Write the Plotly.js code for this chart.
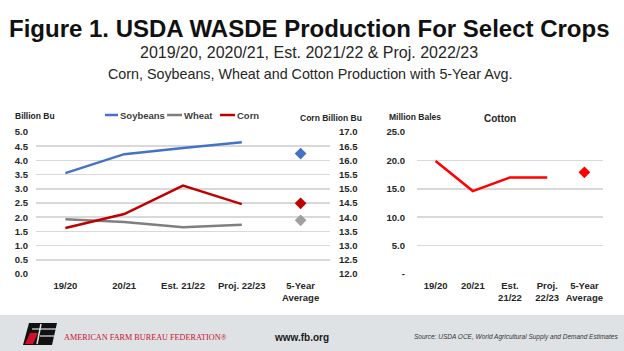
<!DOCTYPE html>
<html><head><meta charset="utf-8">
<script src="https://cdn.plot.ly/plotly-3.0.1.min.js"></script>
<style>html,body{margin:0;padding:0;background:#fff}#chart{width:624px;height:351px}</style>
</head><body><div id="chart"></div>
<script>
// ---- data ----
const categories = ["19/20", "20/21", "Est. 21/22", "Proj. 22/23", "5-Year Average"];
const leftTickText = ["19/20", "20/21", "Est. 21/22", "Proj. 22/23", "5-Year<br>Average"];
const cottonTickText = ["19/20", "20/21", "Est.<br>21/22", "Proj.<br>22/23", "5-Year<br>Average"];
const seriesNames = ["Soybeans", "Wheat", "Corn"];
const soybeans = [3.55, 4.22, 4.44, 4.64];
const wheat = [1.93, 1.83, 1.65, 1.73];
const corn = [13.62, 14.11, 15.11, 14.46];
const cotton = [19.9, 14.6, 17.0, 17.0];
const soybeansAvg = [4.24];
const wheatAvg = [1.89];
const cornAvg = [14.49];
const cottonAvg = [17.9];
const cottonTickVals = [0, 5, 10, 15, 20, 25];
const cottonTickLabels = ["-", "5.0", "10.0", "15.0", "20.0", "25.0"];

// ---- helpers ----
const W = 624, H = 351;
const px = x => x / W;
const py = y => 1 - y / H;
const yearCats = categories.slice(0, 4);
const avgCat = [categories[4]];
const colors = {Soybeans: "#4472C4", Wheat: "#7F7F7F", Corn: "#C00000"};
const SANS = "Liberation Sans, Arial, sans-serif";
const tickFont = {family: SANS, size: 9.5, color: "#262626", weight: 700};

const traces = [
  {x: yearCats, y: soybeans, name: "Soybeans", type: "scatter", mode: "lines", line: {color: colors.Soybeans, width: 2.5}, xaxis: "x", yaxis: "y"},
  {x: yearCats, y: wheat, name: "Wheat", type: "scatter", mode: "lines", line: {color: colors.Wheat, width: 2.5}, xaxis: "x", yaxis: "y"},
  {x: yearCats, y: corn, name: "Corn", type: "scatter", mode: "lines", line: {color: colors.Corn, width: 2.5}, xaxis: "x", yaxis: "y2"},
  {x: avgCat, y: soybeansAvg, name: "Soybeans avg", type: "scatter", mode: "markers", marker: {symbol: "diamond", size: 9, color: colors.Soybeans}, xaxis: "x", yaxis: "y"},
  {x: avgCat, y: wheatAvg, name: "Wheat avg", type: "scatter", mode: "markers", marker: {symbol: "diamond", size: 9, color: "#A0A0A0"}, xaxis: "x", yaxis: "y"},
  {x: avgCat, y: cornAvg, name: "Corn avg", type: "scatter", mode: "markers", marker: {symbol: "diamond", size: 9, color: colors.Corn}, xaxis: "x", yaxis: "y2"},
  {x: yearCats, y: cotton, name: "Cotton", type: "scatter", mode: "lines", line: {color: "#FF0000", width: 2.5}, xaxis: "x2", yaxis: "y3"},
  {x: avgCat, y: cottonAvg, name: "Cotton avg", type: "scatter", mode: "markers", marker: {symbol: "diamond", size: 9, color: "#FF0000"}, xaxis: "x2", yaxis: "y3"}
];
traces.forEach(t => { t.showlegend = false; t.hoverinfo = "skip"; t.cliponaxis = false; });

const gridColor = "#D9D9D9";
const yDomain = [py(274), py(132)];

const annotations = [];
const shapes = [];
function ann(text, x, y, opts) {
  annotations.push(Object.assign({text: text, x: px(x), y: py(y), xref: "paper", yref: "paper", showarrow: false, xanchor: "left", yanchor: "middle", font: {family: SANS, size: 8.5, color: "#262626", weight: 700}}, opts || {}));
}

// title + subtitles
ann("Figure 1. USDA WASDE Production For Select Crops", 309, 28, {xanchor: "center", font: {family: SANS, size: 24, color: "#111111", weight: 700}});
ann("2019/20, 2020/21, Est. 2021/22 &amp; Proj. 2022/23", 309, 52, {xanchor: "center", font: {family: SANS, size: 16, color: "#262626"}});
ann("Corn, Soybeans, Wheat and Cotton Production with 5-Year Avg.", 310, 74, {xanchor: "center", font: {family: SANS, size: 14.3, color: "#262626"}});

// axis titles
ann("Billion Bu", 13, 116);
ann("Corn Billion Bu", 298, 118);
ann("Million Bales", 387, 117);
ann("Cotton", 482, 118, {font: {family: SANS, size: 10, color: "#262626", weight: 700}});

// legend
const legendPos = [[105, 118], [167, 182], [220, 235]];
seriesNames.forEach((n, i) => {
  shapes.push({type: "line", xref: "paper", yref: "paper", x0: px(legendPos[i][0]), x1: px(legendPos[i][1]), y0: py(115), y1: py(115), line: {color: colors[n], width: 2.5}});
  ann(n, legendPos[i][1], 115, {font: {family: SANS, size: 9.5, color: "#404040", weight: 700}});
});

// footer
shapes.push({type: "rect", xref: "paper", yref: "paper", x0: 0, x1: 1, y0: 0, y1: py(315), fillcolor: "#DEE2E5", line: {width: 0}, layer: "below"});
shapes.push({type: "path", xref: "paper", yref: "paper", path: `M ${px(29)} ${py(323)} L ${px(57)} ${py(323)} L ${px(52)} ${py(345)} L ${px(23)} ${py(345)} Z`, fillcolor: "#111111", line: {width: 0}});
shapes.push({type: "path", xref: "paper", yref: "paper", path: `M ${px(30)} ${py(333)} L ${px(38)} ${py(333)} L ${px(33)} ${py(344)} L ${px(25)} ${py(344)} Z`, fillcolor: "#D0102A", line: {width: 0}});
shapes.push({type: "line", xref: "paper", yref: "paper", x0: px(41), x1: px(37), y0: py(324), y1: py(344), line: {color: "#DEE2E5", width: 1.5}});
shapes.push({type: "line", xref: "paper", yref: "paper", x0: px(32), x1: px(56), y0: py(329), y1: py(329), line: {color: "#DEE2E5", width: 1.2}});
shapes.push({type: "line", xref: "paper", yref: "paper", x0: px(40), x1: px(54), y0: py(336), y1: py(336), line: {color: "#DEE2E5", width: 1.2}});
ann("AMERICAN FARM BUREAU FEDERATION®", 62, 337, {font: {family: "Liberation Serif, Times New Roman, serif", size: 8.2, color: "#C8102E"}});
ann("www.fb.org", 272, 337, {font: {family: SANS, size: 10, color: "#1a1a1a", weight: 700}});
ann("Source: USDA OCE, World Agricultural Supply and Demand Estimates", 412, 337, {font: {family: SANS, size: 6.5, color: "#333333", style: "italic"}});

const layout = {
  width: W, height: H, autosize: false,
  margin: {l: 0, r: 0, t: 0, b: 0, pad: 0},
  paper_bgcolor: "#FFFFFF", plot_bgcolor: "rgba(0,0,0,0)",
  showlegend: false,
  xaxis: {domain: [px(36), px(330)], type: "category", categoryorder: "array", categoryarray: categories, range: [-0.5, 4.5],
          tickvals: categories, ticktext: leftTickText, showgrid: false, zeroline: false, showline: false, ticks: "", tickfont: tickFont, anchor: "y", ticklabelstandoff: 4},
  yaxis: {domain: yDomain, range: [0, 5], dtick: 0.5, tick0: 0, tickformat: ".1f", showgrid: true, gridcolor: gridColor, gridwidth: 1.5, zeroline: false, showline: false, ticks: "", tickfont: tickFont, anchor: "x", ticklabelstandoff: 7},
  yaxis2: {domain: yDomain, range: [12, 17], dtick: 0.5, tick0: 12, tickformat: ".1f", overlaying: "y", side: "right", showgrid: false, zeroline: false, showline: false, ticks: "", tickfont: tickFont, anchor: "x", ticklabelstandoff: 8},
  xaxis2: {domain: [px(417), px(603)], type: "category", categoryorder: "array", categoryarray: categories, range: [-0.5, 4.5],
           tickvals: categories, ticktext: cottonTickText, showgrid: false, zeroline: false, showline: false, ticks: "", tickfont: tickFont, anchor: "y3", ticklabelstandoff: 4},
  yaxis3: {domain: yDomain, range: [0, 25], tickvals: cottonTickVals, ticktext: cottonTickLabels, showgrid: true, gridcolor: gridColor, gridwidth: 1.5, zeroline: false, showline: false, ticks: "", tickfont: tickFont, anchor: "x2", ticklabelstandoff: 11},
  annotations: annotations,
  shapes: shapes
};

Plotly.newPlot("chart", traces, layout, {staticPlot: true, displayModeBar: false});
</script>
</body></html>
